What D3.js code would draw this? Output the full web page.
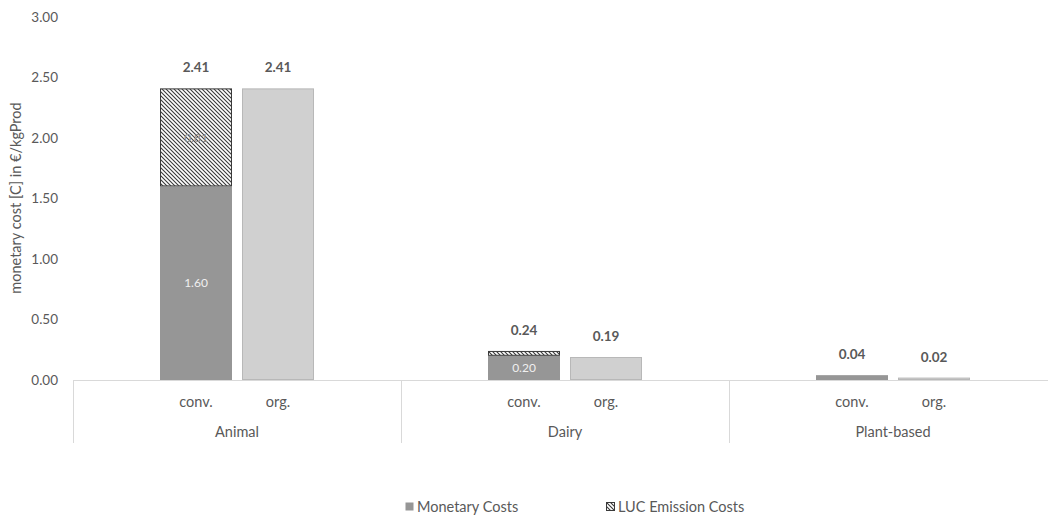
<!DOCTYPE html>
<html><head><meta charset="utf-8">
<script src="https://cdn.jsdelivr.net/npm/d3@7"></script>
<style>body{margin:0;background:#fff}svg{display:block;font-family:Lato,"Open Sans",sans-serif}</style>
</head><body><svg id="c" width="1048" height="515"></svg>
<script>
const categories = ["Animal", "Dairy", "Plant-based"];
const subgroups = ["conv.", "org."];
const convMonetary = [1.60, 0.20, 0.04];
const convLUC = [0.81, 0.04, 0.00];
const orgTotal = [2.41, 0.19, 0.02];
const yTicks = [0, 0.5, 1, 1.5, 2, 2.5, 3];
const innerLabelMonetary = ["1.60", "0.20", ""];
const innerLabelLUC = ["0.81", "", ""];
const legendLabels = ["Monetary Costs", "LUC Emission Costs"];

const svg = d3.select("#c");
const txt = "#595959";
const defs = svg.append("defs");
const pat = defs.append("pattern").attr("id","hatch").attr("patternUnits","userSpaceOnUse")
  .attr("width",4).attr("height",4);
pat.append("rect").attr("width",4).attr("height",4).attr("fill","#fff");
pat.append("path").attr("d","M0,0L4,4M-1,3L1,5M3,-1L5,1").attr("stroke","#3a3a3a").attr("stroke-width",1.1);

const y = d3.scaleLinear().domain([0,3]).range([380,17]);
const x0 = d3.scaleBand().domain(categories).range([73,1057]).padding(0);
const x1 = d3.scaleBand().domain(subgroups).range([87,241]).paddingInner(0.122).paddingOuter(0);

svg.append("g").selectAll("text").data(yTicks).join("text")
  .attr("x",58).attr("y",d=>y(d)).attr("dy","0.35em").attr("text-anchor","end")
  .attr("font-size",13.5).attr("fill",txt).text(d=>d3.format(".2f")(d));

svg.append("text").attr("transform","translate(21,198) rotate(-90)").attr("text-anchor","middle")
  .attr("font-size",14.5).attr("fill",txt).text("monetary cost [C] in €/kgProd");

svg.append("line").attr("x1",73).attr("x2",1048).attr("y1",y(0)+0.5).attr("y2",y(0)+0.5).attr("stroke","#d9d9d9");
svg.append("g").selectAll("line").data(categories).join("line")
  .attr("x1",d=>x0(d)+0.5).attr("x2",d=>x0(d)+0.5).attr("y1",y(0)).attr("y2",443).attr("stroke","#d9d9d9");

const g = svg.append("g").selectAll("g").data(categories).join("g").attr("transform",d=>`translate(${x0(d)},0)`);

g.append("rect").attr("x",x1("conv.")).attr("width",x1.bandwidth())
  .attr("y",(d,i)=>y(convMonetary[i])).attr("height",(d,i)=>y(0)-y(convMonetary[i])).attr("fill","#969696");
g.filter((d,i)=>convLUC[i]>0).append("rect").attr("x",x1("conv.")+0.5).attr("width",x1.bandwidth()-1)
  .attr("y",d=>{const i=categories.indexOf(d);return y(convMonetary[i]+convLUC[i])+0.5;})
  .attr("height",d=>{const i=categories.indexOf(d);return y(convMonetary[i])-y(convMonetary[i]+convLUC[i])-1;})
  .attr("fill","url(#hatch)").attr("stroke","#3a3a3a").attr("stroke-width",1);
g.append("rect").attr("x",x1("org.")+0.5).attr("width",x1.bandwidth()-1)
  .attr("y",(d,i)=>y(orgTotal[i])+0.5).attr("height",(d,i)=>Math.max(0,y(0)-y(orgTotal[i])-1)).attr("fill","#d0d0d0").attr("stroke","#b8b8b8");

g.append("text").attr("x",x1("conv.")+x1.bandwidth()/2).attr("y",(d,i)=>y(convMonetary[i]+convLUC[i])-16)
  .attr("text-anchor","middle").attr("font-size",13.5).attr("font-weight","bold").attr("fill",txt)
  .text((d,i)=>d3.format(".2f")(convMonetary[i]+convLUC[i]));
g.append("text").attr("x",x1("org.")+x1.bandwidth()/2).attr("y",(d,i)=>y(orgTotal[i])-16)
  .attr("text-anchor","middle").attr("font-size",13.5).attr("font-weight","bold").attr("fill",txt)
  .text((d,i)=>d3.format(".2f")(orgTotal[i]));
g.append("text").attr("x",x1("conv.")+x1.bandwidth()/2).attr("y",(d,i)=>(y(0)+y(convMonetary[i]))/2).attr("dy","0.35em")
  .attr("text-anchor","middle").attr("font-size",12).attr("fill","#f0f0f0").text((d,i)=>innerLabelMonetary[i]);
g.append("text").attr("x",x1("conv.")+x1.bandwidth()/2).attr("y",(d,i)=>(y(convMonetary[i])+y(convMonetary[i]+convLUC[i]))/2).attr("dy","0.35em")
  .attr("text-anchor","middle").attr("font-size",12).attr("fill","#8a8a8a").text((d,i)=>innerLabelLUC[i]);

g.selectAll(".sub").data(subgroups).join("text").attr("class","sub")
  .attr("x",d=>x1(d)+x1.bandwidth()/2).attr("y",407).attr("text-anchor","middle")
  .attr("font-size",14.5).attr("fill",txt).text(d=>d);
g.append("text").attr("x",x0.bandwidth()/2).attr("y",437).attr("text-anchor","middle")
  .attr("font-size",14.5).attr("fill",txt).text(d=>d);

const lg = svg.append("g").selectAll("g").data(legendLabels).join("g")
  .attr("transform",(d,i)=>`translate(${[405,606][i]},502)`);
lg.append("rect").attr("x",0.5).attr("y",0.5).attr("width",8).attr("height",8)
  .attr("fill",(d,i)=>i?"url(#hatch)":"#969696").attr("stroke",(d,i)=>i?"#3a3a3a":"none");
lg.append("text").attr("x",12).attr("y",4.5).attr("dy","0.35em").attr("font-size",14.5).attr("fill",txt).text(d=>d);
</script></body></html>
